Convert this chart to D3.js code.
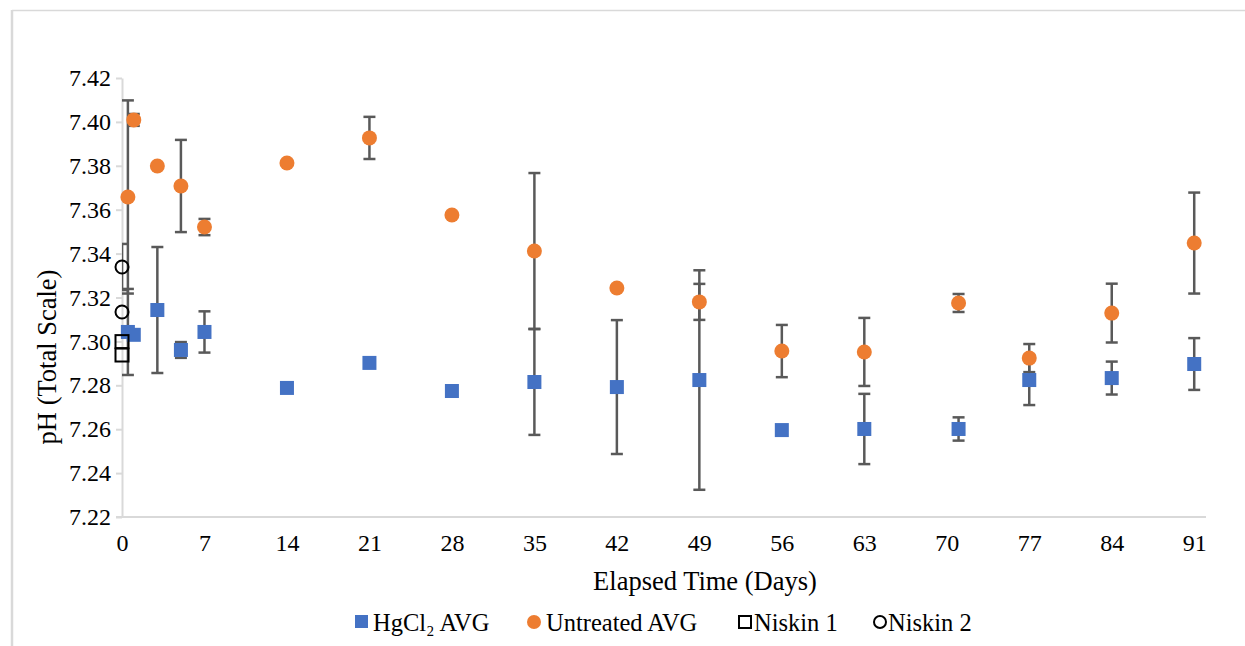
<!DOCTYPE html>
<html>
<head>
    <meta charset="UTF-8">
    <title>pH over elapsed time</title>
    <script src="https://d3js.org/d3.v7.min.js"></script>
    <style>
        body {
            margin: 0;
            background: #fff;
            font-family: "Liberation Serif", "Times New Roman", serif;
        }

        .axis-title {
            font-size: 26.5px;
            fill: #000;
        }

        .legend text {
            font-size: 24.5px;
            fill: #000;
        }

        .err {
            stroke: #595959;
            stroke-width: 2.5px;
        }
    </style>
</head>
<body>
    <div id="chart"></div>

    <script>
        // sampling days (HgCl2 and untreated share the same days)
        const days = [0.5, 1, 3, 5, 7, 14, 21, 28, 35, 42, 49, 56, 63, 71, 77, 84, 91];

        const hgAvg = [7.3043, 7.3030, 7.3143, 7.2961, 7.3043, 7.2788, 7.2902, 7.2774, 7.2815,
                       7.2792, 7.2824, 7.2596, 7.2601, 7.2601, 7.2824, 7.2833, 7.2897];
        const hgErr = [0.0196, 0, 0.0287, 0.0036, 0.0094, 0, 0, 0, 0.0241,
                       0.0305, 0.0500, 0, 0.0160, 0.0053, 0.0114, 0.0075, 0.0118];

        const untreatedAvg = [7.3658, 7.4009, 7.3799, 7.3708, 7.3521, 7.3813, 7.3927, 7.3576, 7.3412,
                              7.3243, 7.3180, 7.2956, 7.2952, 7.3175, 7.2924, 7.3129, 7.3448];
        const untreatedErr = [0.0440, 0.0027, 0, 0.0210, 0.0037, 0.0008, 0.0096, 0, 0.0355,
                              0, 0.0082, 0.0119, 0.0155, 0.0041, 0.0064, 0.0134, 0.0230];

        const niskinDays = [0, 0];
        const niskin1 = [7.2999, 7.2938];
        const niskin2 = [7.3339, 7.3134];
        const niskin2Err = [0.0105, 0];

        const xTicks = [0, 7, 14, 21, 28, 35, 42, 49, 56, 63, 70, 77, 84, 91];
        const yTicks = [7.22, 7.24, 7.26, 7.28, 7.30, 7.32, 7.34, 7.36, 7.38, 7.40, 7.42];

        const width = 1245;
        const height = 646;
        const plot = {left: 122, right: 1206, top: 78, bottom: 517};
        const serif = "'Liberation Serif', 'Times New Roman', serif";

        const svg = d3.select("#chart")
            .append("svg")
            .attr("width", width)
            .attr("height", height);

        // chart frame (only top and left edges are in view)
        svg.append("line")
            .attr("x1", 12).attr("x2", width).attr("y1", 10.5).attr("y2", 10.5)
            .attr("stroke", "#d9d9d9").attr("stroke-width", 1.5);
        svg.append("line")
            .attr("x1", 12).attr("x2", 12).attr("y1", 10).attr("y2", height)
            .attr("stroke", "#d9d9d9").attr("stroke-width", 2.5);

        const x = d3.scaleLinear().domain([0, 92]).range([plot.left, plot.right]);
        const y = d3.scaleLinear().domain([7.22, 7.42]).range([plot.bottom, plot.top]);

        // axes
        const xAxis = svg.append("g")
            .attr("transform", `translate(0,${plot.bottom})`)
            .call(d3.axisBottom(x).tickValues(xTicks).tickSize(0).tickPadding(17)
                .tickFormat(d3.format("d")));
        xAxis.select(".domain").attr("stroke", "#d9d9d9").attr("stroke-width", 2)
            .attr("d", `M${plot.left - 6},0H${plot.right}`);

        const yAxis = svg.append("g")
            .attr("transform", `translate(${plot.left},0)`)
            .call(d3.axisLeft(y).tickValues(yTicks).tickSize(6).tickSizeOuter(0).tickPadding(5)
                .tickFormat(d3.format(".2f")));
        yAxis.select(".domain").attr("stroke", "#d9d9d9").attr("stroke-width", 2);
        yAxis.selectAll(".tick line").attr("stroke", "#d9d9d9").attr("stroke-width", 2);

        svg.selectAll(".tick text")
            .style("font-family", serif)
            .style("font-size", "24px")
            .attr("fill", "#000");

        svg.append("text")
            .attr("class", "axis-title")
            .attr("x", 705)
            .attr("y", 590)
            .attr("text-anchor", "middle")
            .text("Elapsed Time (Days)");

        svg.append("text")
            .attr("class", "axis-title")
            .attr("transform", "translate(56,357) rotate(-90)")
            .attr("text-anchor", "middle")
            .text("pH (Total Scale)");

        // error bars, clipped to the plot area
        svg.append("clipPath").attr("id", "plot-clip")
            .append("rect")
            .attr("x", plot.left).attr("y", plot.top - 40)
            .attr("width", plot.right - plot.left + 20)
            .attr("height", plot.bottom - plot.top + 40);

        const errData = [];
        days.forEach((d, i) => {
            if (hgErr[i] > 0) errData.push({d: d, v: hgAvg[i], e: hgErr[i]});
            if (untreatedErr[i] > 0) errData.push({d: d, v: untreatedAvg[i], e: untreatedErr[i]});
        });
        niskinDays.forEach((d, i) => {
            if (niskin2Err[i] > 0) errData.push({d: d, v: niskin2[i], e: niskin2Err[i]});
        });

        const errG = svg.append("g").attr("clip-path", "url(#plot-clip)");
        const cap = 6;
        errData.forEach(p => {
            const cx = x(p.d);
            const yTop = y(p.v + p.e);
            const yBot = y(p.v - p.e);
            errG.append("line").attr("class", "err")
                .attr("x1", cx).attr("x2", cx).attr("y1", yTop).attr("y2", yBot);
            errG.append("line").attr("class", "err")
                .attr("x1", cx - cap).attr("x2", cx + cap).attr("y1", yTop).attr("y2", yTop);
            errG.append("line").attr("class", "err")
                .attr("x1", cx - cap).attr("x2", cx + cap).attr("y1", yBot).attr("y2", yBot);
        });

        // markers
        const sq = 14;
        svg.append("g").selectAll("rect")
            .data(days)
            .join("rect")
            .attr("x", (d) => x(d) - sq / 2)
            .attr("y", (d, i) => y(hgAvg[i]) - sq / 2)
            .attr("width", sq)
            .attr("height", sq)
            .attr("fill", "#4472c4");

        svg.append("g").selectAll("circle")
            .data(days)
            .join("circle")
            .attr("cx", (d) => x(d))
            .attr("cy", (d, i) => y(untreatedAvg[i]))
            .attr("r", 7.5)
            .attr("fill", "#ed7d31");

        svg.append("g").selectAll("rect")
            .data(niskinDays)
            .join("rect")
            .attr("x", (d) => x(d) - 6.5)
            .attr("y", (d, i) => y(niskin1[i]) - 6.5)
            .attr("width", 13)
            .attr("height", 13)
            .attr("fill", "none")
            .attr("stroke", "#000")
            .attr("stroke-width", 2);

        svg.append("g").selectAll("circle")
            .data(niskinDays)
            .join("circle")
            .attr("cx", (d) => x(d))
            .attr("cy", (d, i) => y(niskin2[i]))
            .attr("r", 6.5)
            .attr("fill", "none")
            .attr("stroke", "#000")
            .attr("stroke-width", 2);

        // legend
        const legendItems = [
            {label: "HgCl₂ AVG", sx: 355, tx: 373, shape: "square-fill"},
            {label: "Untreated AVG", sx: 527, tx: 546, shape: "circle-fill"},
            {label: "Niskin 1", sx: 738, tx: 754, shape: "square"},
            {label: "Niskin 2", sx: 873, tx: 888, shape: "circle"}
        ];
        const ly = 622;
        const legend = svg.append("g").attr("class", "legend");
        legendItems.forEach(item => {
            if (item.shape === "square-fill") {
                legend.append("rect").attr("x", item.sx).attr("y", ly - 7)
                    .attr("width", 13).attr("height", 13).attr("fill", "#4472c4");
            } else if (item.shape === "circle-fill") {
                legend.append("circle").attr("cx", item.sx + 7).attr("cy", ly)
                    .attr("r", 7).attr("fill", "#ed7d31");
            } else if (item.shape === "square") {
                legend.append("rect").attr("x", item.sx + 1).attr("y", ly - 6)
                    .attr("width", 12).attr("height", 12)
                    .attr("fill", "none").attr("stroke", "#000").attr("stroke-width", 2);
            } else {
                legend.append("circle").attr("cx", item.sx + 7).attr("cy", ly)
                    .attr("r", 6).attr("fill", "none").attr("stroke", "#000").attr("stroke-width", 2);
            }
            legend.append("text")
                .attr("x", item.tx)
                .attr("y", ly)
                .attr("dy", "0.35em")
                .text(item.label);
        });
    </script>
</body>
</html>
